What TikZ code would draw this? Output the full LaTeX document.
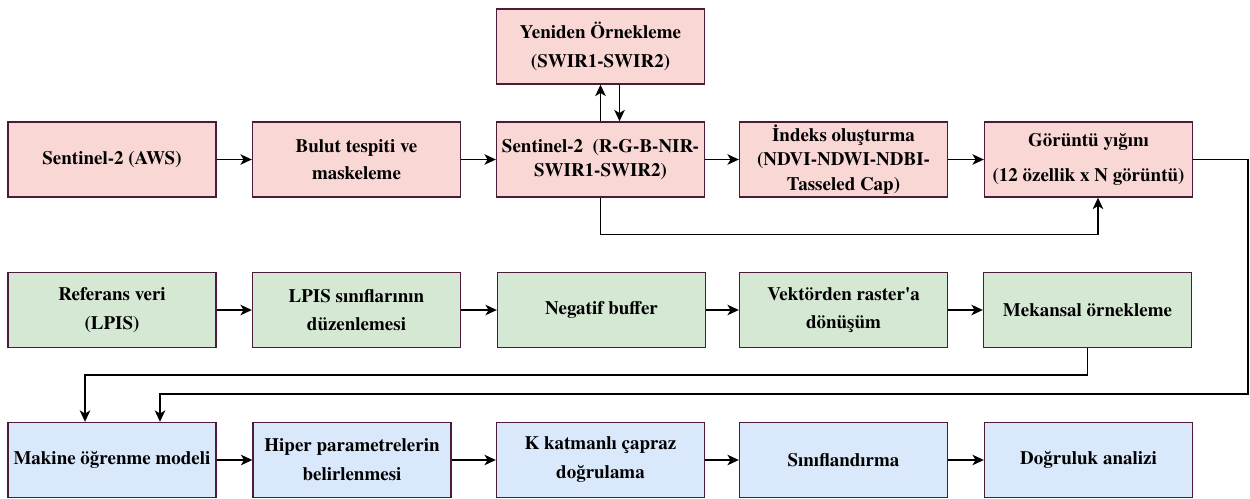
\documentclass[tikz,border=0pt]{standalone}
\usepackage{fontspec}
\setmainfont{texgyretermes}[Extension=.otf,UprightFont=*-regular,BoldFont=*-bold]
\usetikzlibrary{arrows.meta}
\definecolor{boxline}{HTML}{4A1C38}
\definecolor{redfill}{HTML}{F9D7D5}
\definecolor{greenfill}{HTML}{D5E8D4}
\definecolor{bluefill}{HTML}{DAE8FC}
\begin{document}
\begin{tikzpicture}[x=0.02cm,y=-0.02cm,>={Stealth[length=6.5pt,width=6pt,inset=1.8pt]},
	box/.style={draw=boxline,line width=0.8pt,minimum width=4.16cm,minimum height=1.5cm,align=center,inner sep=1pt,font=\bfseries\fontsize{10.8}{14}\selectfont},
	redbox/.style={box,fill=redfill},
	greenbox/.style={box,fill=greenfill},
	bluebox/.style={box,fill=bluefill},
	link/.style={->,line width=0.85pt}]
	\useasboundingbox (0,0) rectangle (1250,498);
		% uydu verisi
		\node[redbox] (s2aws) at (112,159.5) {Sentinel-2 (AWS)};
		\node[redbox] (bulut) at (356.5,159.5) {Bulut tespiti ve\\[1.5pt] maskeleme};
		\node[redbox] (s2) at (600.5,159.5) {Sentinel-2\ \ (R-G-B-NIR-\\ SWIR1-SWIR2)};
		\node[redbox] (yeniden) at (600.5,46.5) {Yeniden Örnekleme\\[2.5pt] (SWIR1-SWIR2)};
		\node[redbox] (indeks) at (843.5,159.5) {İndeks oluşturma\\ (NDVI-NDWI-NDBI-\\ Tasseled Cap)};
		\node[redbox] (yigin) at (1088.5,159.5) {Görüntü yığını\\[6pt] (12 özellik x N görüntü)};
		% referans verisi
		\node[greenbox] (referans) at (112,310) {Referans veri\\[2pt] (LPIS)};
		\node[greenbox] (lpis) at (356.5,310) {LPIS sınıflarının\\[2pt] düzenlemesi};
		\node[greenbox] (negatif) at (601.5,310) {Negatif buffer};
		\node[greenbox] (vektor) at (843.5,310) {Vektörden raster\textquotesingle a\\[2pt] dönüşüm};
		\node[greenbox] (mekansal) at (1087.5,310) {Mekansal örnekleme};
		% model
		\node[bluebox] (makine) at (112,460) {Makine öğrenme modeli};
		\node[bluebox,minimum width=3.96cm] (hiper) at (352,460) {Hiper parametrelerin\\[2.5pt] belirlenmesi};
		\node[bluebox] (kfold) at (600.5,460) {K katmanlı çapraz\\[2.5pt] doğrulama};
		\node[bluebox] (sinif) at (843.5,460) {Sınıflandırma};
		\node[bluebox] (dogruluk) at (1088.5,460) {Doğruluk analizi};
		\coordinate (sag) at (1248,394);

		\draw[link] (s2aws) -- (bulut);
		\draw[link] (bulut) -- (s2);
		\draw[link] (s2) -- (indeks);
		\draw[link] (indeks) -- (yigin);
		\draw[link] (s2.north) -- (s2.north |- yeniden.south);
		\draw[link] ([xshift=0.38cm]yeniden.south) -- ([xshift=0.38cm]s2.north);
		\draw[link] (s2.south) -- ++(0,37) -| ([xshift=0.19cm]yigin.south);
		\draw[link] (yigin.east) -| (sag) -| ([xshift=0.96cm]makine.north);

		\draw[link] (referans) -- (lpis);
		\draw[link] (lpis) -- (negatif);
		\draw[link] (negatif) -- (vektor);
		\draw[link] (vektor) -- (mekansal);
		\draw[link] (mekansal.south) -- ++(0,27) -| ([xshift=-0.54cm]makine.north);

		\draw[link] (makine) -- (hiper);
		\draw[link] (hiper) -- (kfold);
		\draw[link] (kfold) -- (sinif);
		\draw[link] (sinif) -- (dogruluk);
	\end{tikzpicture}
\end{document}
